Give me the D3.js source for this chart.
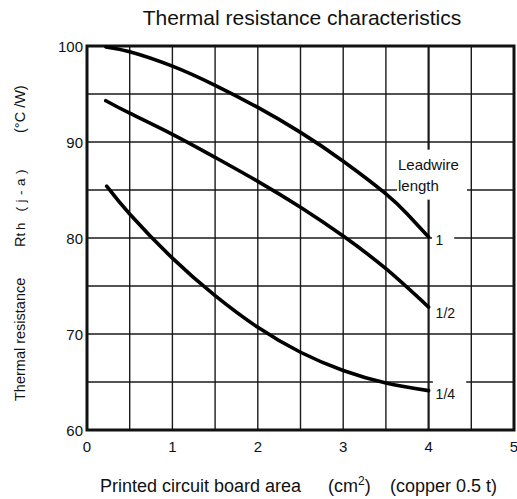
<!DOCTYPE html>
<html>
<head>
<meta charset="utf-8">
<script src="https://cdn.jsdelivr.net/npm/d3@7/dist/d3.min.js"></script>
<style>
  html, body { margin: 0; padding: 0; background: #fff; }
  svg { display: block; font-family: "Liberation Sans", Arial, sans-serif; }
</style>
</head>
<body>
<svg id="chart" width="517" height="499"></svg>
<script>
// ---- data ----
const xTicks = [0, 1, 2, 3, 4, 5];
const yTicks = [60, 70, 80, 90, 100];
const xGrid = [0.5, 1, 1.5, 2, 2.5, 3, 3.5, 4, 4.5];
const yGrid = [65, 70, 75, 80, 85, 90, 95];

const curve1X = [0.22, 0.5, 1, 1.5, 2, 2.5, 3, 3.5, 3.75, 4];
const curve1Y = [99.9, 99.4, 97.9, 95.9, 93.6, 91.0, 88.0, 84.6, 82.5, 80.1];
const curve2X = [0.22, 0.5, 1, 1.5, 2, 2.5, 3, 3.5, 4];
const curve2Y = [94.3, 93.0, 90.8, 88.4, 85.9, 83.2, 80.2, 76.8, 72.8];
const curve3X = [0.23, 0.5, 1, 1.5, 2, 2.5, 3, 3.5, 4];
const curve3Y = [85.4, 82.5, 77.9, 74.0, 70.7, 68.1, 66.2, 64.9, 64.1];
const curveLabels = ["1", "1/2", "1/4"];

const titleText = "Thermal resistance characteristics";

// ---- layout ----
const svg = d3.select("#chart");
const pL = 87, pR = 514, pT = 46, pB = 430;
const x = d3.scaleLinear().domain([0, 5]).range([pL, pR]);
const y = d3.scaleLinear().domain([60, 100]).range([pB, pT]);

// title
svg.append("text").attr("x", 302).attr("y", 25).attr("text-anchor", "middle")
  .attr("font-size", 21).attr("fill", "#111").text(titleText);

// grid
const g = svg.append("g");
g.selectAll("line.v").data(xGrid).enter().append("line")
  .attr("x1", d => x(d)).attr("x2", d => x(d)).attr("y1", pT).attr("y2", pB)
  .attr("stroke", "#1a1a1a").attr("stroke-width", d => d === 4 ? 2.2 : 1.4);
g.selectAll("line.h").data(yGrid).enter().append("line")
  .attr("y1", d => y(d)).attr("y2", d => y(d)).attr("x1", pL).attr("x2", pR)
  .attr("stroke", "#1a1a1a").attr("stroke-width", 1.4);

// white patches behind labels
svg.append("rect").attr("x", x(3.63)).attr("y", y(89.2)).attr("width", x(4.45) - x(3.63)).attr("height", y(84.0) - y(89.2)).attr("fill", "#fff");
svg.append("rect").attr("x", x(4.04)).attr("y", y(80.6)).attr("width", x(4.3) - x(4.04)).attr("height", 2 * (y(79.4) - y(80))).attr("fill", "#fff");
svg.append("rect").attr("x", x(4.05)).attr("y", y(65.6)).attr("width", x(4.44) - x(4.05)).attr("height", 2 * (y(64.4) - y(65))).attr("fill", "#fff");

// border
svg.append("rect").attr("x", pL).attr("y", pT).attr("width", pR - pL).attr("height", pB - pT)
  .attr("fill", "none").attr("stroke", "#111").attr("stroke-width", 3);

// curves
const line = d3.line().x(d => x(d[0])).y(d => y(d[1])).curve(d3.curveNatural);
const curves = [d3.zip(curve1X, curve1Y), d3.zip(curve2X, curve2Y), d3.zip(curve3X, curve3Y)];
svg.selectAll("path.curve").data(curves).enter().append("path")
  .attr("d", line).attr("fill", "none").attr("stroke", "#000").attr("stroke-width", 3.6)
  .attr("stroke-linecap", "round");

// curve labels
const labelDy = [8, 11, 8];
svg.selectAll("text.cl").data(curves).enter().append("text")
  .attr("x", d => x(d[d.length - 1][0]) + 7)
  .attr("y", (d, i) => y(d[d.length - 1][1]) + labelDy[i])
  .attr("font-size", 14).attr("fill", "#111")
  .text((d, i) => curveLabels[i]);

// leadwire label
svg.append("text").attr("x", x(3.63) + 1).attr("y", 170).attr("font-size", 15).attr("fill", "#111").text("Leadwire");
svg.append("text").attr("x", x(3.63) + 1).attr("y", 191).attr("font-size", 15).attr("fill", "#111").text("length");

// tick labels
svg.selectAll("text.xt").data(xTicks).enter().append("text")
  .attr("x", d => x(d)).attr("y", 452).attr("text-anchor", "middle")
  .attr("font-size", 15).attr("fill", "#111").text(d => d);
svg.selectAll("text.yt").data(yTicks).enter().append("text")
  .attr("x", 83).attr("y", d => y(d) + 5.5).attr("text-anchor", "end")
  .attr("font-size", 15).attr("fill", "#111").text(d => d);

// x axis title
const xt = svg.append("text").attr("y", 492).attr("font-size", 18).attr("fill", "#111");
xt.append("tspan").attr("x", 100).text("Printed circuit board area");
xt.append("tspan").attr("x", 328).text("(cm");
xt.append("tspan").attr("dy", -7).attr("font-size", 12).text("2");
xt.append("tspan").attr("dy", 7).text(")");
xt.append("tspan").attr("x", 390).text("(copper 0.5 t)");

// y axis title
const yt = svg.append("text").attr("transform", "translate(25,0) rotate(-90)").attr("font-size", 14.5).attr("fill", "#111");
yt.append("tspan").attr("x", -401).text("Thermal resistance");
yt.append("tspan").attr("x", -247).text("R");
yt.append("tspan").attr("font-size", 13).attr("letter-spacing", 3).text("th");
yt.append("tspan").attr("font-size", 13.5).attr("letter-spacing", 4.5).text(" (j-a)");
yt.append("tspan").attr("x", -133).text("(°C /W)");
</script>
</body>
</html>
